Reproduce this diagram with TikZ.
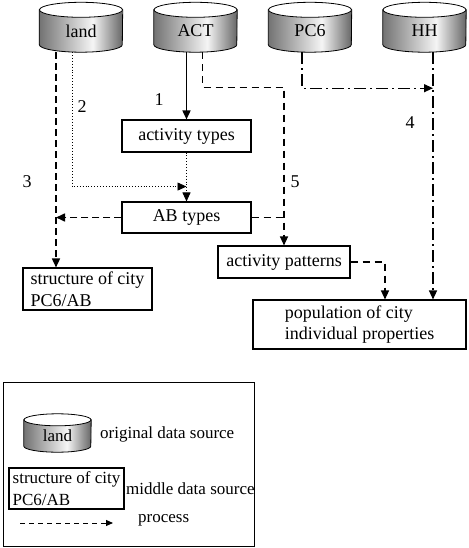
\documentclass[tikz,border=0pt]{standalone}
\usepackage{fontspec}
\setmainfont{Liberation Serif}
\usetikzlibrary{calc,arrows.meta}
\pgfdeclarelayer{background}
\pgfsetlayers{background,main}

\pgfdeclarehorizontalshading{drumshade}{100bp}{color(0bp)=(black!55); color(25bp)=(black!55); color(57bp)=(black!4); color(75bp)=(black!60); color(100bp)=(black!60)}

\tikzset{
  box/.style={draw, line width=1.1pt, inner sep=2pt},
  drum/.style={inner sep=0pt},
  plain/.style={inner sep=0pt},
  solidflow/.style={line width=1.6pt},
  dotflow/.style={line width=0.9pt, dotted},
  thickdash/.style={line width=1.6pt, dash pattern=on 7pt off 4pt},
  dashflow/.style={line width=1.2pt, dash pattern=on 7pt off 5pt},
  dashdotflow/.style={line width=1.2pt, dash pattern=on 12pt off 4pt on 2pt off 4pt},
  legfont/.style={font=\fontsize{17}{21.5}\selectfont}
}

% cylinder drawn behind a named node: node, x radius, y radius
\newcommand{\drumshape}[3]{%
  \begin{pgfonlayer}{background}
    \shade[draw, line width=0.8pt, shading=drumshade]
      ($(#1.north west)$) -- ($(#1.south west)+(0,#3)$)
      arc[start angle=180, end angle=360, x radius=#2, y radius=#3]
      -- ($(#1.north east)$) -- cycle;
    \draw[line width=0.8pt, fill=white] (#1.north) ellipse[x radius=#2, y radius=#3];
  \end{pgfonlayer}}

\begin{document}
\begin{tikzpicture}[x=1pt, y=1pt, >={Triangle[length=9pt,width=8pt]},
    font=\fontsize{18}{21.5}\selectfont]
  \useasboundingbox (0,0) rectangle (468,-548);

  % data sources
  \node[drum, minimum width=83, minimum height=42] (land) at (81,-31) {land};
  \node[drum, minimum width=83, minimum height=42] (act) at (195.5,-31) {ACT};
  \node[drum, minimum width=83, minimum height=42] (pcsix) at (310,-31) {PC6};
  \node[drum, minimum width=83, minimum height=42] (hh) at (424.5,-31) {HH};
  \drumshape{land}{41.5}{7.5}
  \drumshape{act}{41.5}{7.5}
  \drumshape{pcsix}{41.5}{7.5}
  \drumshape{hh}{41.5}{7.5}

  % middle data
  \node[box, minimum width=129, minimum height=32] (acttypes) at (186.5,-136) {activity types};
  \node[box, minimum width=129, minimum height=31] (abtypes) at (186.5,-217.5) {AB types};
  \node[box, minimum width=129, minimum height=42, align=left] (structure) at (87.5,-289) {structure of city\\PC6/AB};
  \node[box, minimum width=132, minimum height=32] (actpatterns) at (284,-262) {activity patterns};
  \node[box, minimum width=213, minimum height=49, align=left] (population) at (359.5,-324.5) {population of city\\individual properties};

  % process 1
  \draw[solidflow, ->] (acttypes.north |- act.south) -- (acttypes.north);
  % process 2
  \coordinate (land2) at ($(land.south)+(-9,0)$);
  \coordinate (join2) at ($(acttypes.south)+(0,-34)$);
  \draw[dotflow, ->] (land2) |- (join2);
  \draw[dotflow, ->] (acttypes.south) -- (abtypes.north);
  % process 3
  \coordinate (land3) at ($(land.south)+(-25,0)$);
  \draw[thickdash, ->] (land3) -- (land3 |- structure.north);
  \draw[thickdash, ->] (abtypes.west) -- (abtypes.west -| land3);
  % process 4
  \coordinate (pc4) at ($(pcsix.south)+(-8,0)$);
  \coordinate (hh4) at ($(hh.south)+(8.5,0)$);
  \coordinate (bend4) at ($(pcsix.south)+(0,-36)$);
  \draw[dashdotflow, ->] (pc4) |- (bend4 -| hh4);
  \draw[dashdotflow, ->] (hh4) -- (hh4 |- population.north);
  % process 5
  \coordinate (act5) at ($(act.south)+(7,0)$);
  \coordinate (bend5) at ($(act.south)+(0,-35)$);
  \draw[dashflow, ->] (act5) |- (bend5 -| actpatterns.north) -- (actpatterns.north);
  \draw[dashflow] (abtypes.east) -- (abtypes.east -| actpatterns.north);
  \coordinate (pop5) at ($(population.north)+(25.5,0)$);
  \draw[dashflow, ->] (actpatterns.east) -| (pop5);

  % numbers
  \node (n1) at (159,-100) {1};
  \node (n2) at (82,-107) {2};
  \node (n3) at (27,-182) {3};
  \node (n4) at (410,-123) {4};
  \node (n5) at (295,-182) {5};

  % legend
  \draw[line width=0.8pt] (3,-382) rectangle (254,-546.5);
  \node[drum, legfont, minimum width=67, minimum height=32] (legdrum) at (57.5,-436) {land};
  \drumshape{legdrum}{33.5}{6}
  \node[plain, legfont, anchor=west] (legorig) at (100,-434) {original data source};
  \node[box, legfont, minimum width=115, minimum height=41, align=left] (legmid) at (66.5,-488.5) {structure of city\\PC6/AB};
  \node[plain, legfont, anchor=west] (legmidtext) at (126,-489) {middle data source};
  \coordinate (legfrom) at (20,-523);
  \coordinate (legto) at (113,-523);
  \draw[line width=1pt, dash pattern=on 5pt off 4pt, -{Triangle[length=7pt,width=6pt]}] (legfrom) -- (legto);
  \node[plain, legfont, anchor=west] (legproc) at (138,-520) {process};
\end{tikzpicture}
\end{document}
